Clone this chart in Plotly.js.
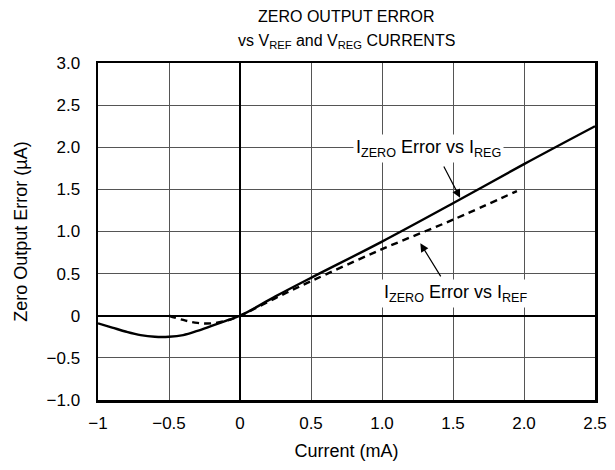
<!DOCTYPE html>
<html>
<head>
<meta charset="utf-8">
<script src="https://cdn.plot.ly/plotly-3.0.1.min.js"></script>
<style>html,body{margin:0;padding:0;background:#fff;}#chart{width:615px;height:470px;}</style>
</head>
<body>
<div id="chart"></div>
<script>
// Data
const regCurrent = [-1, -0.9, -0.8, -0.7, -0.6, -0.5, -0.4, -0.3, -0.2, -0.1, 0, 0.25, 0.5, 1.0, 1.5, 2.0, 2.5];
const regError   = [-0.09, -0.14, -0.19, -0.23, -0.25, -0.25, -0.23, -0.18, -0.12, -0.06, 0, 0.23, 0.45, 0.88, 1.335, 1.8, 2.25];
const refCurrent = [-0.5, -0.4, -0.3, -0.2, -0.1, 0, 0.25, 0.5, 1.0, 1.5, 1.95];
const refError   = [0, -0.05, -0.085, -0.09, -0.06, 0, 0.21, 0.41, 0.79, 1.14, 1.48];

const xTickVals = [-1, -0.5, 0, 0.5, 1.0, 1.5, 2.0, 2.5];
const xTickText = ['\u22121', '\u22120.5', '0', '0.5', '1.0', '1.5', '2.0', '2.5'];
const yTickVals = [-1.0, -0.5, 0, 0.5, 1.0, 1.5, 2.0, 2.5, 3.0];
const yTickText = ['\u22121.0', '\u22120.5', '0', '0.5', '1.0', '1.5', '2.0', '2.5', '3.0'];

const titleLine1 = 'ZERO OUTPUT ERROR';
const titleLine2 = 'vs V<sub>REF</sub> and V<sub>REG</sub> CURRENTS';
const labelReg = 'I<sub>ZERO</sub> Error vs I<sub>REG</sub>';
const labelRef = 'I<sub>ZERO</sub> Error vs I<sub>REF</sub>';

const FONT = 'Liberation Sans, Arial, Helvetica, sans-serif';

const traces = [
  {x: regCurrent, y: regError, mode: 'lines', line: {color: '#000', width: 2.4, shape: 'spline'}, showlegend: false, hoverinfo: 'skip'},
  {x: refCurrent, y: refError, mode: 'lines', line: {color: '#000', width: 2.4, dash: '7px,5px', shape: 'spline'}, showlegend: false, hoverinfo: 'skip'}
];

const axisCommon = {
  showgrid: true, gridcolor: '#555', gridwidth: 1,
  zeroline: true, zerolinecolor: '#000', zerolinewidth: 2,
  showline: true, linecolor: '#000', linewidth: 2.5, mirror: true,
  ticks: '', tickfont: {family: FONT, size: 17, color: '#000'},
  tickmode: 'array', fixedrange: true
};

const layout = {
  width: 615, height: 470,
  margin: {l: 98, r: 20, t: 63, b: 70},
  paper_bgcolor: '#fff', plot_bgcolor: '#fff',
  font: {family: FONT, size: 17, color: '#000'},
  xaxis: Object.assign({}, axisCommon, {
    range: [-1, 2.5], tickvals: xTickVals, ticktext: xTickText, ticklabelstandoff: 6,
    title: {text: 'Current (mA)', font: {family: FONT, size: 18, color: '#000'}, standoff: 13}
  }),
  yaxis: Object.assign({}, axisCommon, {
    range: [-1, 3], tickvals: yTickVals, ticktext: yTickText, ticklabelstandoff: 12,
    title: {text: 'Zero Output Error (\u00b5A)', font: {family: FONT, size: 18, color: '#000'}, standoff: 14}
  }),
  annotations: [
    {x: 0.5, y: 1.1365, xref: 'paper', yref: 'paper', text: titleLine1, showarrow: false,
     xanchor: 'center', yanchor: 'middle', font: {family: FONT, size: 16, color: '#000'}},
    {x: 0.5, y: 1.065, xref: 'paper', yref: 'paper', text: titleLine2, showarrow: false,
     xanchor: 'center', yanchor: 'middle', font: {family: FONT, size: 16, color: '#000'}},
    {x: 1.324, y: 1.99, xref: 'x', yref: 'y', text: labelReg,
     showarrow: false, bgcolor: '#fff', borderpad: 2, font: {family: FONT, size: 18, color: '#000'}},
    {x: 1.55, y: 1.40, xref: 'x', yref: 'y', ax: 1.43, ay: 1.79, axref: 'x', ayref: 'y', text: '',
     showarrow: true, arrowhead: 2, arrowsize: 1.4, arrowwidth: 1.2, arrowcolor: '#000'},
    {x: 1.52, y: 0.27, xref: 'x', yref: 'y', text: labelRef,
     showarrow: false, bgcolor: '#fff', borderpad: 2, font: {family: FONT, size: 18, color: '#000'}},
    {x: 1.27, y: 0.86, xref: 'x', yref: 'y', ax: 1.42, ay: 0.45, axref: 'x', ayref: 'y', text: '',
     showarrow: true, arrowhead: 2, arrowsize: 1.4, arrowwidth: 1.2, arrowcolor: '#000'}
  ]
};

Plotly.newPlot('chart', traces, layout, {displayModeBar: false, staticPlot: true});
</script>
</body>
</html>
